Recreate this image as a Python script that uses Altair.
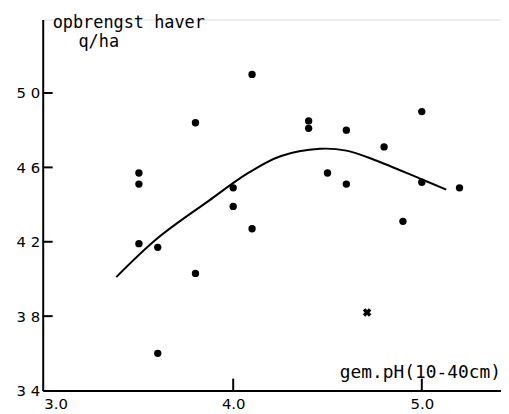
import altair as alt
import pandas as pd

# scatter points (gem. pH, opbrengst q/ha)
ph = [3.5, 3.5, 3.5, 3.6, 3.6, 3.8, 3.8, 4.0, 4.0, 4.1, 4.1,
      4.4, 4.4, 4.5, 4.6, 4.6, 4.8, 4.9, 5.0, 5.0, 5.2]
yield_ = [45.7, 45.1, 41.9, 41.7, 36.0, 48.4, 40.3, 44.9, 43.9, 51.0, 42.7,
          48.5, 48.1, 45.7, 48.0, 45.1, 47.1, 43.1, 49.0, 45.2, 44.9]
# outlier marked with a cross
x_ph = [4.71]
x_yield = [38.2]
# fitted curve
curve_ph = [3.38, 3.6, 3.87, 4.08, 4.25, 4.46, 4.6, 4.75, 4.99, 5.13]
curve_yield = [40.1, 42.2, 44.2, 45.7, 46.6, 47.0, 46.9, 46.4, 45.4, 44.8]
# axis ticks
y_ticks = [34, 38, 42, 46, 50]
x_ticks = [3.0, 4.0, 5.0]
x_inner_ticks = [4.0, 5.0]

W, H = 462, 374
FONT = "DejaVu Sans"
TFONT = "DejaVu Sans Mono"
xs = alt.Scale(domain=[2.99, 5.42], nice=False, zero=False)
ys = alt.Scale(domain=[34, 53.95], nice=False, zero=False)

pts_df = pd.DataFrame({"ph": ph, "y": yield_})
cross_df = pd.DataFrame({"ph": x_ph, "y": x_yield})
curve_df = pd.DataFrame({"ph": curve_ph, "y": curve_yield, "o": range(len(curve_ph))})

points = alt.Chart(pts_df).mark_circle(color="black", size=55, opacity=1).encode(
    x=alt.X("ph:Q", scale=xs, axis=alt.Axis(
        values=x_ticks, format=".1f", ticks=False, grid=False, title=None,
        labelOffset={"condition": {"test": "datum.value == 3", "value": 11}, "value": 0},
        domainColor="black", domainWidth=2, labelFont=FONT, labelFontSize=15,
        labelColor="black", labelPadding=6)),
    y=alt.Y("y:Q", scale=ys, axis=alt.Axis(
        values=y_ticks, format="d", ticks=False, grid=False, title=None,
        labelExpr="floor(datum.value / 10) + ' ' + (datum.value % 10)",
        domainColor="black", domainWidth=2, labelFont=FONT, labelFontSize=15,
        labelColor="black", labelPadding=3)),
)

cross = alt.Chart(cross_df).mark_point(
    shape="cross", angle=45, filled=True, color="black", size=75, opacity=1
).encode(x=alt.X("ph:Q", scale=xs), y=alt.Y("y:Q", scale=ys))

curve = alt.Chart(curve_df).mark_line(color="black", strokeWidth=2, interpolate="catmull-rom").encode(
    x=alt.X("ph:Q", scale=xs), y=alt.Y("y:Q", scale=ys), order="o:O")

ytick_rules = alt.Chart(pd.DataFrame({"v": y_ticks[1:]})).mark_rule(color="black", strokeWidth=2).encode(
    y=alt.Y("v:Q", scale=ys), x=alt.value(0), x2=alt.value(10))

xtick_rules = alt.Chart(pd.DataFrame({"v": x_inner_ticks})).mark_rule(color="black", strokeWidth=2).encode(
    x=alt.X("v:Q", scale=xs), y=alt.value(H), y2=alt.value(H - 12))

labels_df = pd.DataFrame({
    "t": ["opbrengst haver", "q/ha", "gem.pH(10-40cm)"],
    "px": [10, 36, W],
    "py": [4, 23, H - 18],
})
title_left = alt.Chart(labels_df.iloc[:2]).mark_text(
    font=TFONT, fontSize=17, color="black", align="left", baseline="middle"
).encode(x=alt.X("px:Q", scale=None), y=alt.Y("py:Q", scale=None), text="t:N")
title_right = alt.Chart(labels_df.iloc[2:]).mark_text(
    font=TFONT, fontSize=18, color="black", align="right", baseline="middle"
).encode(x=alt.X("px:Q", scale=None), y=alt.Y("py:Q", scale=None), text="t:N")

chart = alt.layer(points, curve, cross, ytick_rules, xtick_rules, title_left, title_right).properties(
    width=W, height=H,
    autosize=alt.AutoSizeParams(type="none"),
    padding={"left": 35, "top": 10, "right": 0, "bottom": 20},
).configure_view(stroke=None).configure(background="white")

chart.save("out.html", embed_options={"renderer": "svg", "actions": False})
